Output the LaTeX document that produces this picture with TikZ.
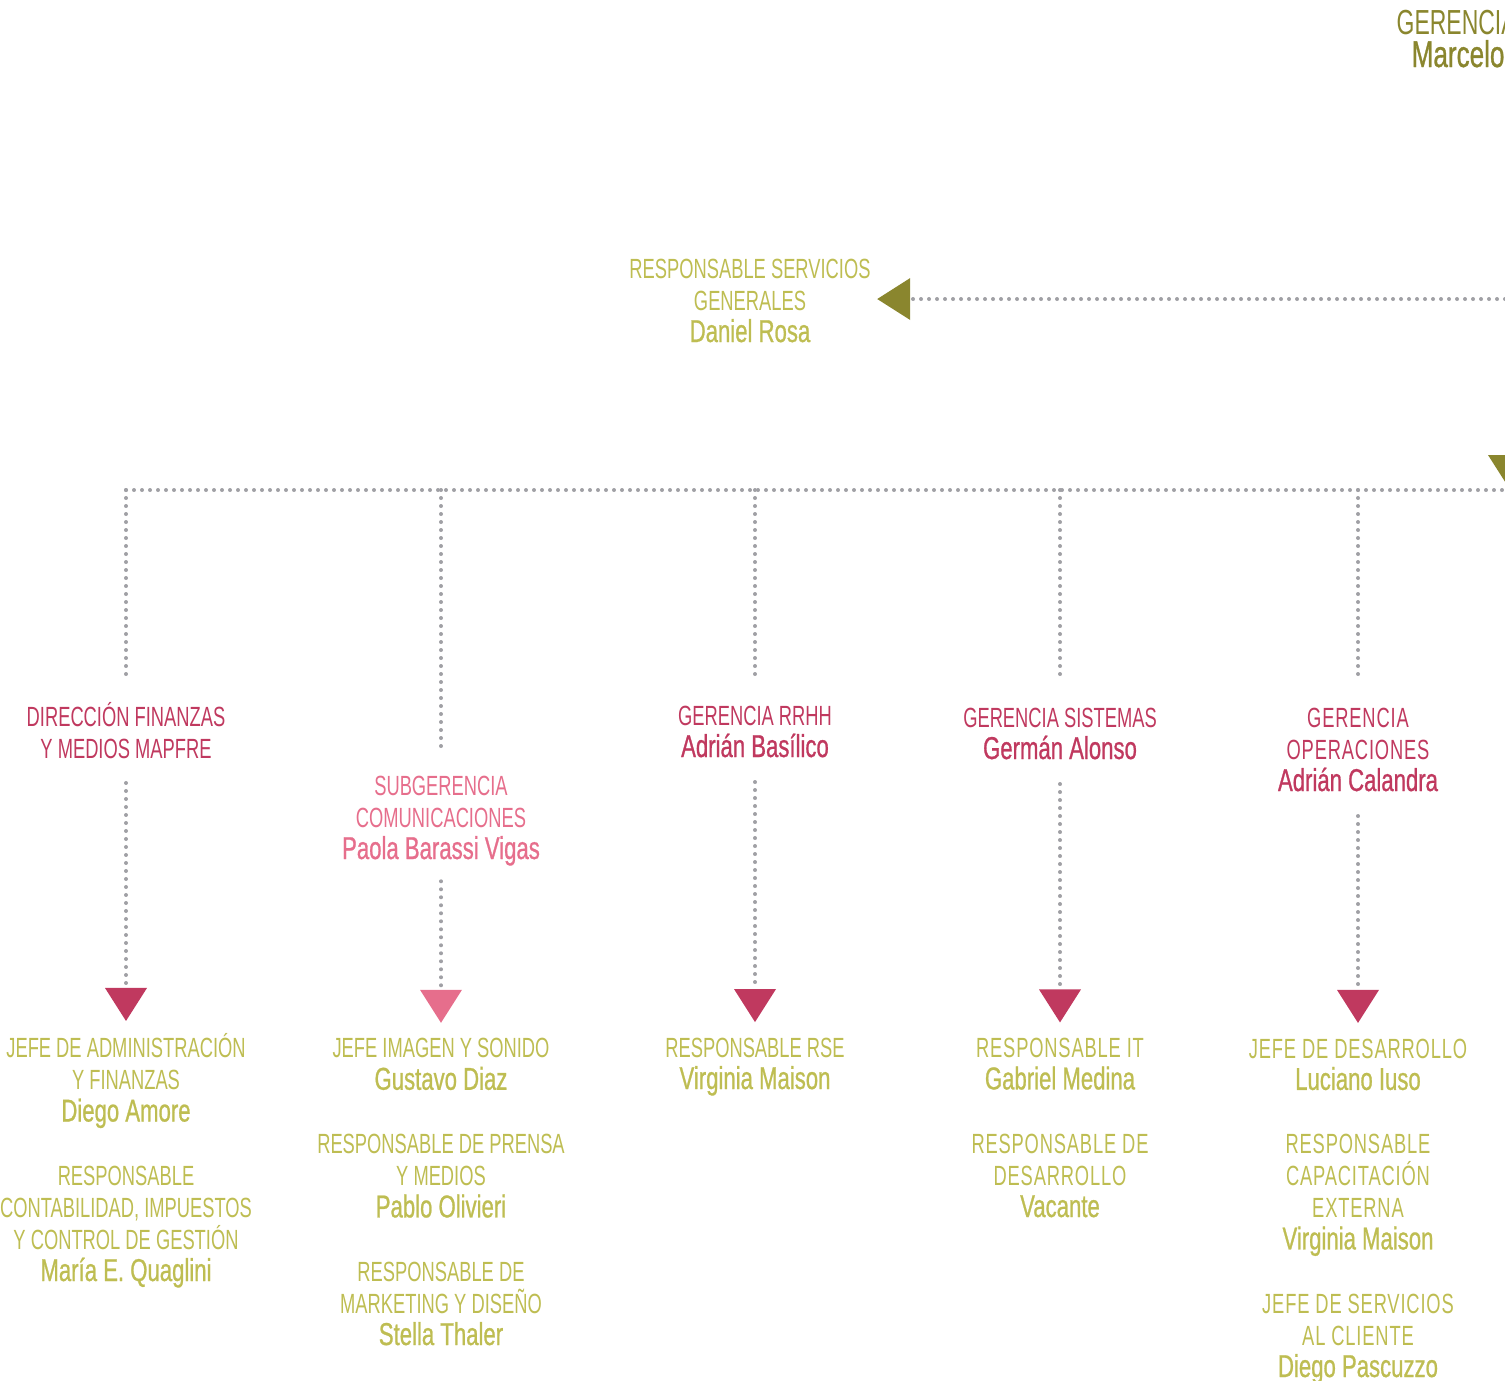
\documentclass[tikz,border=0pt]{standalone}
\usepackage{fontspec}
\usepackage{tikz}
\usetikzlibrary{arrows.meta}
\setmainfont{Liberation Sans}[FakeStretch=0.66]
\newfontfamily\spfont{Liberation Sans}[FakeStretch=0.66, LetterSpace=3]
\newfontfamily\namefont{Liberation Sans}[FakeStretch=0.7, FakeBold=0.8]
\definecolor{olivedark}{RGB}{138,134,46}
\definecolor{lime}{RGB}{190,189,82}
\definecolor{crimson}{RGB}{192,57,95}
\definecolor{rosa}{RGB}{230,110,140}
\definecolor{dotgrey}{RGB}{160,160,165}
\newcommand{\capsize}{\fontsize{7.9}{9.07}\selectfont}
\newcommand{\nm}[1]{{\namefont\fontsize{9}{9.07}\selectfont #1}}
\tikzset{
  cargo/.style={anchor=base, align=center, inner sep=0pt, font=\capsize},
  cargosp/.style={cargo, font=\spfont\capsize},
  dotline/.style={dotgrey, line width=0.4mm, line cap=round, dash pattern=on 0pt off 0.8mm},
  tipo/.style={-{Triangle[length=3.3mm, width=4.2mm, color=olivedark, line width=0pt]}},
  tipc/.style={-{Triangle[length=3.3mm, width=4.2mm, color=crimson, line width=0pt]}},
  tipr/.style={-{Triangle[length=3.3mm, width=4.2mm, color=rosa, line width=0pt]}},
}
\begin{document}
\begin{tikzpicture}[x=0.1mm, y=-0.1mm]
    \useasboundingbox (0,0) rectangle (1505,1380);
    \clip (0,0) rectangle (1505,1380);

    % gerencia (cut by the frame)
    \node[anchor=base west, inner sep=0pt, olivedark, font=\fontsize{9.9}{11}\selectfont] (ger) at (1396,34) {GERENCIA};
    \node[anchor=base west, inner sep=0pt, olivedark] (gername) at (1411,67) {\namefont\fontsize{10.6}{11}\selectfont Marcelo};

    % servicios generales (base = last line)
    \node[cargo, lime] (srv) at (750,342) {RESPONSABLE SERVICIOS\\GENERALES\\\nm{Daniel Rosa}};

    % second level
    \node[cargo, crimson] (fin) at (126,758) {DIRECCIÓN FINANZAS\\Y MEDIOS MAPFRE};
    \node[cargo, rosa] (com) at (441,859) {SUBGERENCIA\\COMUNICACIONES\\\nm{Paola Barassi Vigas}};
    \node[cargo, crimson] (rrhh) at (755,757) {GERENCIA RRHH\\\nm{Adrián Basílico}};
    \node[cargo, crimson] (sis) at (1060,759) {GERENCIA SISTEMAS\\\nm{Germán Alonso}};
    \node[cargosp, crimson] (ope) at (1358,791) {GERENCIA\\OPERACIONES\\\nm{Adrián Calandra}};

    % third level
    \node[cargo, lime] (jfin) at (126,1281) {JEFE DE ADMINISTRACIÓN\\Y FINANZAS\\\nm{Diego Amore}\\[3.2mm]
        RESPONSABLE\\CONTABILIDAD, IMPUESTOS\\Y CONTROL DE GESTIÓN\\\nm{María E. Quaglini}};
    \node[cargo, lime] (jcom) at (441,1345) {JEFE IMAGEN Y SONIDO\\\nm{Gustavo Diaz}\\[3.2mm]
        RESPONSABLE DE PRENSA\\Y MEDIOS\\\nm{Pablo Olivieri}\\[3.2mm]
        RESPONSABLE DE\\MARKETING Y DISEÑO\\\nm{Stella Thaler}};
    \node[cargo, lime] (jrrhh) at (755,1089) {RESPONSABLE RSE\\\nm{Virginia Maison}};
    \node[cargosp, lime] (jsis) at (1060,1217) {RESPONSABLE IT\\\nm{Gabriel Medina}\\[3.2mm]
        RESPONSABLE DE\\DESARROLLO\\\nm{Vacante}};
    \node[cargosp, lime] (jope) at (1358,1377) {JEFE DE DESARROLLO\\\nm{Luciano Iuso}\\[3.2mm]
        RESPONSABLE\\CAPACITACIÓN\\EXTERNA\\\nm{Virginia Maison}\\[3.2mm]
        JEFE DE SERVICIOS\\AL CLIENTE\\\nm{Diego Pascuzzo}};

    % connectors
    \coordinate (srvR) at (1505,299);
    \coordinate (gtop) at (1509,330);
    \coordinate (gbus) at (1509,488);
    \coordinate (busL) at (126,490);
    \coordinate (busR) at (1505,490);

    \draw[dotline, tipo] (srvR) -- ([xshift=0.6mm]srv.east |- srvR);
    \draw[dotline, tipo] (gtop) -- (gbus);
    \draw[dotline] (busL) -- (busR);

    \draw[dotline] (busL) -- ([yshift=2.6mm]fin.north);
    \draw[dotline] (com |- busL) -- ([yshift=2.2mm]com.north);
    \draw[dotline] (rrhh |- busL) -- ([yshift=2.6mm]rrhh.north);
    \draw[dotline] (sis |- busL) -- ([yshift=2.6mm]sis.north);
    \draw[dotline] (ope |- busL) -- ([yshift=2.6mm]ope.north);

    \draw[dotline, tipc] ([yshift=-2.4mm]fin.south) -- ([yshift=1.2mm]jfin.north);
    \draw[dotline, tipr] ([yshift=-1.5mm]com.south) -- ([yshift=1.5mm]jcom.north);
    \draw[dotline, tipc] ([yshift=-2.4mm]rrhh.south) -- ([yshift=1.5mm]jrrhh.north);
    \draw[dotline, tipc] ([yshift=-2.4mm]sis.south) -- ([yshift=1.5mm]jsis.north);
    \draw[dotline, tipc] ([yshift=-2.4mm]ope.south) -- ([yshift=1.5mm]jope.north);
\end{tikzpicture}
\end{document}
